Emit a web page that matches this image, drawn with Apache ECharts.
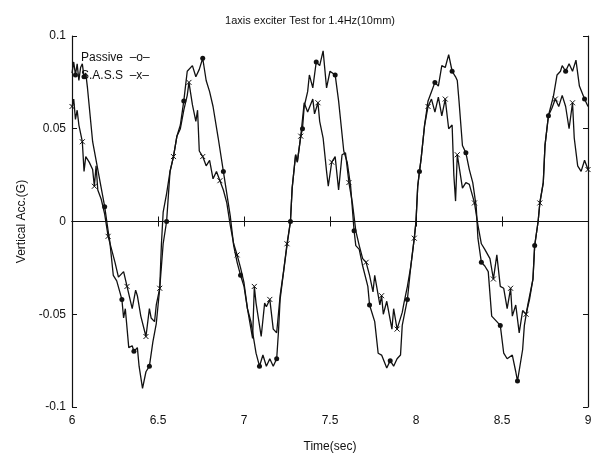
<!DOCTYPE html>
<html><head><meta charset="utf-8">
<script src="https://cdn.jsdelivr.net/npm/echarts@6/dist/echarts.min.js"></script>
<style>html,body{margin:0;padding:0;background:#fff}#c{width:598px;height:463px}</style>
</head><body><div id="c"></div>
<script>
const titleText = "1axis exciter Test for 1.4Hz(10mm)";
const xTitle = "Time(sec)";
const yTitle = "Vertical Acc.(G)";
const legendLines = ["Passive  \u2013o\u2013", "S.A.S.S  \u2013x\u2013"];

const passiveT = [6.00,6.01,6.02,6.03,6.04,6.05,6.06,6.07,6.08,6.09,6.12,6.16,6.19,6.21,6.22,6.24,6.26,6.29,6.30,6.31,6.33,6.35,6.36,6.38,6.39,6.41,6.43,6.45,6.47,6.49,6.51,6.53,6.55,6.57,6.59,6.61,6.63,6.65,6.67,6.70,6.72,6.74,6.76,6.78,6.80,6.82,6.85,6.88,6.90,6.92,6.94,6.96,6.98,7.00,7.02,7.04,7.07,7.09,7.11,7.13,7.15,7.17,7.19,7.20,7.21,7.23,7.25,7.27,7.28,7.30,7.31,7.33,7.34,7.35,7.37,7.38,7.40,7.42,7.44,7.46,7.48,7.50,7.53,7.55,7.58,7.60,7.62,7.64,7.65,7.67,7.69,7.72,7.73,7.76,7.78,7.80,7.83,7.85,7.87,7.89,7.91,7.92,7.95,7.97,7.99,8.00,8.01,8.02,8.03,8.05,8.07,8.09,8.11,8.13,8.15,8.17,8.19,8.21,8.23,8.24,8.25,8.27,8.29,8.31,8.33,8.35,8.36,8.38,8.40,8.42,8.44,8.47,8.49,8.51,8.53,8.56,8.58,8.59,8.62,8.63,8.65,8.68,8.69,8.71,8.72,8.74,8.75,8.77,8.80,8.82,8.84,8.85,8.87,8.89,8.91,8.93,8.95,8.98,9.00];
const passiveV = [0.080,0.086,0.079,0.085,0.076,0.083,0.085,0.078,0.080,0.072,0.043,0.023,0.008,-0.005,-0.011,-0.029,-0.032,-0.042,-0.052,-0.047,-0.068,-0.067,-0.070,-0.068,-0.078,-0.090,-0.081,-0.078,-0.065,-0.055,-0.036,-0.012,0.000,0.027,0.035,0.046,0.052,0.065,0.081,0.084,0.078,0.082,0.088,0.076,0.070,0.062,0.045,0.027,0.015,0.003,-0.013,-0.022,-0.029,-0.035,-0.047,-0.054,-0.071,-0.078,-0.072,-0.078,-0.074,-0.078,-0.074,-0.060,-0.042,-0.027,-0.013,0.000,0.018,0.036,0.032,0.046,0.050,0.062,0.070,0.079,0.072,0.086,0.084,0.092,0.072,0.081,0.079,0.065,0.038,0.032,0.019,-0.005,-0.013,-0.015,-0.024,-0.035,-0.045,-0.054,-0.071,-0.072,-0.079,-0.075,-0.078,-0.074,-0.072,-0.056,-0.042,-0.024,-0.009,0.000,0.019,0.027,0.034,0.052,0.065,0.070,0.075,0.073,0.084,0.083,0.090,0.081,0.078,0.076,0.065,0.041,0.037,0.028,0.021,0.008,-0.009,-0.022,-0.024,-0.027,-0.051,-0.054,-0.056,-0.071,-0.074,-0.072,-0.081,-0.086,-0.069,-0.056,-0.045,-0.031,-0.013,0.000,0.010,0.021,0.041,0.057,0.068,0.079,0.081,0.084,0.081,0.085,0.081,0.087,0.073,0.066,0.062];

const sassT = [6.00,6.01,6.02,6.03,6.04,6.06,6.07,6.08,6.10,6.12,6.13,6.14,6.15,6.17,6.19,6.21,6.23,6.25,6.27,6.30,6.32,6.35,6.37,6.38,6.40,6.43,6.45,6.46,6.48,6.49,6.51,6.52,6.53,6.55,6.57,6.59,6.61,6.63,6.65,6.67,6.68,6.70,6.72,6.73,6.74,6.76,6.78,6.80,6.82,6.84,6.86,6.88,6.90,6.92,6.94,6.96,6.98,7.00,7.02,7.05,7.06,7.07,7.10,7.12,7.13,7.15,7.17,7.19,7.21,7.23,7.25,7.27,7.28,7.30,7.31,7.33,7.35,7.37,7.40,7.41,7.43,7.44,7.46,7.48,7.49,7.51,7.53,7.55,7.57,7.59,7.61,7.63,7.65,7.67,7.69,7.71,7.73,7.75,7.76,7.79,7.80,7.81,7.83,7.86,7.87,7.89,7.92,7.93,7.95,7.97,7.99,8.00,8.01,8.03,8.05,8.07,8.09,8.11,8.13,8.15,8.17,8.19,8.21,8.22,8.23,8.24,8.27,8.29,8.31,8.32,8.34,8.36,8.38,8.40,8.43,8.45,8.47,8.49,8.51,8.53,8.55,8.56,8.58,8.60,8.62,8.64,8.66,8.68,8.69,8.71,8.72,8.74,8.75,8.77,8.79,8.81,8.83,8.85,8.87,8.89,8.91,8.92,8.94,8.96,8.98,9.00];
const sassV = [0.062,0.066,0.055,0.060,0.052,0.043,0.027,0.035,0.032,0.028,0.019,0.030,0.017,0.012,0.004,-0.008,-0.015,-0.022,-0.030,-0.027,-0.035,-0.047,-0.037,-0.040,-0.051,-0.062,-0.047,-0.052,-0.054,-0.045,-0.036,-0.012,0.005,0.015,0.027,0.035,0.046,0.050,0.060,0.068,0.075,0.063,0.054,0.060,0.038,0.035,0.030,0.033,0.023,0.027,0.022,0.017,0.010,-0.002,-0.012,-0.018,-0.025,-0.033,-0.047,-0.063,-0.035,-0.044,-0.062,-0.044,-0.046,-0.042,-0.058,-0.060,-0.040,-0.027,-0.012,0.000,0.018,0.036,0.032,0.046,0.064,0.059,0.066,0.058,0.064,0.054,0.045,0.027,0.019,0.032,0.035,0.017,0.036,0.037,0.021,0.010,-0.005,-0.013,-0.020,-0.022,-0.029,-0.038,-0.029,-0.045,-0.040,-0.050,-0.043,-0.058,-0.047,-0.058,-0.049,-0.044,-0.035,-0.024,-0.009,0.000,0.019,0.034,0.052,0.062,0.066,0.059,0.067,0.057,0.066,0.050,0.052,0.025,0.011,0.036,0.018,0.021,0.020,0.021,0.010,-0.002,-0.012,-0.015,-0.020,-0.031,-0.018,-0.035,-0.036,-0.047,-0.036,-0.051,-0.045,-0.060,-0.048,-0.050,-0.042,-0.031,-0.013,0.000,0.010,0.021,0.041,0.057,0.061,0.066,0.062,0.068,0.062,0.050,0.064,0.045,0.030,0.027,0.033,0.028];

const xMin = 6, xMax = 9, xStep = 0.5;
const yMin = -0.1, yMax = 0.1, yStep = 0.05;

const FONT = "Liberation Sans";
const chart = echarts.init(document.getElementById('c'), null, {renderer: 'canvas'});
const axisCommon = {
  axisLine: {show: true, lineStyle: {color: '#111', width: 1.2}},
  axisTick: {show: true, inside: true, length: 5, lineStyle: {color: '#111'}},
  splitLine: {show: false}
};
const crossPath = 'path://M0,0L10,10M10,0L0,10';
chart.setOption({
  animation: false,
  backgroundColor: '#fff',
  title: {text: titleText, left: 305, top: 10, textAlign: 'center',
    textStyle: {fontFamily: FONT, fontSize: 11, fontWeight: 'normal', color: '#111'}},
  grid: {left: 72, right: 10, top: 36, bottom: 56},
  graphic: [
    {type: 'text', left: 81, top: 52, style: {text: legendLines[0], font: '12px "' + FONT + '"', fill: '#111'}},
    {type: 'text', left: 81, top: 70, style: {text: legendLines[1], font: '12px "' + FONT + '"', fill: '#111'}}
  ],
  xAxis: [
    Object.assign({type: 'value', min: xMin, max: xMax, interval: xStep, position: 'bottom',
      name: xTitle, nameLocation: 'middle', nameGap: 34,
      nameTextStyle: {fontFamily: FONT, fontSize: 12, color: '#111'},
      axisLabel: {fontFamily: FONT, fontSize: 12, color: '#111', margin: 8}}, axisCommon),
    Object.assign({type: 'value', min: xMin, max: xMax, interval: xStep, position: 'top',
      axisLabel: {show: false}}, axisCommon)
  ],
  yAxis: [
    Object.assign({type: 'value', min: yMin, max: yMax, interval: yStep, position: 'left',
      name: yTitle, nameLocation: 'middle', nameGap: 44, nameRotate: 90,
      nameTextStyle: {fontFamily: FONT, fontSize: 12, color: '#111'},
      axisLabel: {fontFamily: FONT, fontSize: 12, color: '#111', margin: 6}}, axisCommon),
    Object.assign({type: 'value', min: yMin, max: yMax, interval: yStep, position: 'right',
      axisLabel: {show: false}}, axisCommon)
  ],
  series: [
    {name: 'Passive', type: 'line', data: passiveT.map((t, i) => [t, passiveV[i]]),
      showSymbol: true, showAllSymbol: true, symbol: 'circle',
      symbolSize: (v, p) => (p.dataIndex % 5 === 2 ? 5 : 0),
      itemStyle: {color: '#111'}, lineStyle: {color: '#111', width: 1.3},
      markLine: {silent: true, symbol: 'none', label: {show: false},
        lineStyle: {color: '#111', width: 1, type: 'solid'}, data: [{yAxis: 0}]}},
    {name: 'S.A.S.S', type: 'line', data: sassT.map((t, i) => [t, sassV[i]]),
      showSymbol: true, showAllSymbol: true, symbol: crossPath,
      symbolSize: (v, p) => (p.dataIndex % 5 === 0 ? 5 : 0),
      itemStyle: {color: 'none', borderColor: '#111', borderWidth: 1},
      lineStyle: {color: '#111', width: 1.3}}
  ]
});
</script></body></html>
